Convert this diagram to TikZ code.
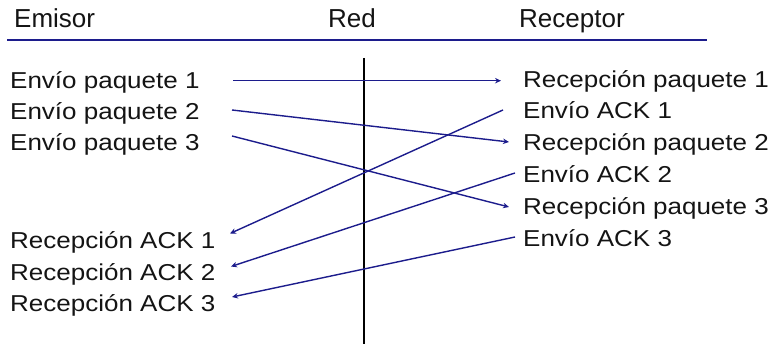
\documentclass[tikz,border=0pt]{standalone}
\usepackage{fontspec}
\setmainfont{Liberation Sans}
\newfontfamily\bodyfont{Liberation Sans}[FakeStretch=1.13]
\usetikzlibrary{arrows.meta}
\definecolor{navyline}{RGB}{28,28,140}
\definecolor{txt}{RGB}{20,20,20}
\tikzset{
  head/.style={anchor=base west, inner sep=0pt, text=txt, font=\fontsize{26}{26}\selectfont},
  lbl/.style={anchor=base west, inner sep=0pt, text=txt, font=\bodyfont\fontsize{23}{23}\selectfont},
  msg/.style={draw=navyline, line width=1.4pt, -{Stealth[length=6pt,width=5.5pt]}},
  rule/.style={draw=navyline, line width=2.4pt},
  netline/.style={draw=black, line width=1.8pt}
}
\begin{document}
\begin{tikzpicture}[x=1pt,y=-1pt]
\useasboundingbox (0,0) rectangle (769,344);
% headers
\node[head] (emisor) at (14,27.3) {Emisor};
\node[head] (red) at (328,27.3) {Red};
\node[head] (receptor) at (519,27.3) {Receptor};
\coordinate (ruleL) at (7,40);
\coordinate (ruleR) at (707,40);
\draw[rule] (ruleL) -- (ruleR);
% network line
\coordinate (netT) at (364,58);
\coordinate (netB) at (364,344);
\draw[netline] (netT) -- (netB);
% left labels
\node[lbl] (ep1) at (10,89) {Envío paquete 1};
\node[lbl] (ep2) at (10,120) {Envío paquete 2};
\node[lbl] (ep3) at (10,151) {Envío paquete 3};
\node[lbl] (ra1) at (10,249) {Recepción ACK 1};
\node[lbl] (ra2) at (10,280.5) {Recepción ACK 2};
\node[lbl] (ra3) at (10,311.5) {Recepción ACK 3};
% right labels
\node[lbl] (rp1) at (523,87.5) {Recepción paquete 1};
\node[lbl] (ea1) at (523,119) {Envío ACK 1};
\node[lbl] (rp2) at (523,151) {Recepción paquete 2};
\node[lbl] (ea2) at (523,183) {Envío ACK 2};
\node[lbl] (rp3) at (523,215) {Recepción paquete 3};
\node[lbl] (ea3) at (523,246.5) {Envío ACK 3};
% arrow end points
\coordinate (s1) at (233,80.7);
\coordinate (t1) at (501,80.7);
\coordinate (s2) at (232,110);
\coordinate (t2) at (509,142);
\coordinate (s3) at (232,136);
\coordinate (t3) at (509,207);
\coordinate (a1) at (503,110);
\coordinate (b1) at (230,233.5);
\coordinate (a2) at (515,173);
\coordinate (b2) at (231,266.5);
\coordinate (a3) at (515,237);
\coordinate (b3) at (232,297);
\draw[msg] (s1) -- (t1);
\draw[msg] (s2) -- (t2);
\draw[msg] (s3) -- (t3);
\draw[msg] (a1) -- (b1);
\draw[msg] (a2) -- (b2);
\draw[msg] (a3) -- (b3);
\end{tikzpicture}
\end{document}
